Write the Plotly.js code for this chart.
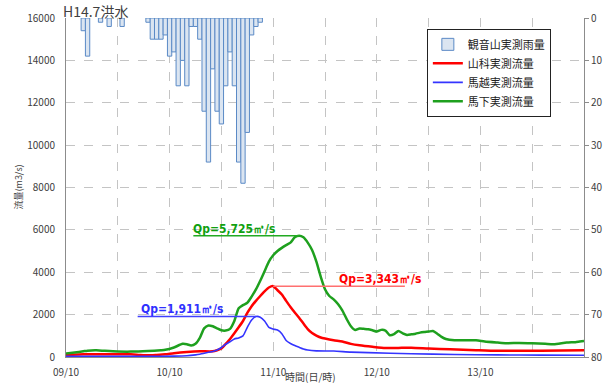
<!DOCTYPE html>
<html>
<head>
<meta charset="utf-8">
<script src="https://cdn.plot.ly/plotly-3.0.1.min.js"></script>
<style>html,body{margin:0;padding:0;background:#fff;}#chart{width:614px;height:390px;}</style>
</head>
<body>
<div id="chart"></div>
<script>
// Hours since 09/10 (day 9, 10:00), July 2002 (H14.7)
const chartTitle = "H14.7洪水";
const dayLabels = ["09/10", "10/10", "11/10", "12/10", "13/10"];

// 観音山実測雨量 (mm/h)
const rainHours = [4, 5, 8, 10, 13, 19, 20, 21, 22, 23, 24, 25, 26, 27, 28, 29, 30, 31, 32, 33, 34, 35, 36, 37, 38, 39, 40, 41, 42, 43, 44, 45];
const rainVals  = [3, 9, 1, 2, 2, 1, 5, 5, 5, 4, 9, 8, 16, 10, 16, 2, 2, 5, 22, 34, 12, 22, 25, 16, 8, 16, 34, 39, 27, 4, 2, 1];

// 山科実測流量 (m3/s)
const yamashinaHours = [0, 3, 5, 10, 15, 17, 19, 21, 23, 25, 28, 31, 34, 35, 36, 37, 38, 39, 40, 41, 42, 43, 44, 45, 46, 47, 48, 49, 50, 51, 52, 53, 54, 55, 56, 57, 58, 59, 60, 62, 64, 66, 68, 71, 74, 77, 80, 84, 89, 95, 100, 110, 120];
const yamashinaVals  = [100, 120, 127, 127, 127, 100, 80, 100, 127, 180, 236, 269, 269, 320, 400, 620, 850, 1120, 1400, 1700, 2080, 2400, 2650, 2880, 3100, 3280, 3343, 3150, 2950, 2650, 2360, 2100, 1850, 1580, 1320, 1130, 1010, 920, 870, 790, 730, 620, 552, 480, 420, 430, 440, 400, 363, 320, 290, 300, 316];

// 馬越実測流量 (m3/s)
const magoshiHours = [0, 10, 20, 25, 28, 30, 31, 33, 34, 35, 36, 37, 38, 39, 40, 41, 42, 43, 44, 45, 46, 47, 48, 49, 50, 51, 52, 53, 54, 55, 56, 58, 62, 66, 70, 80, 90, 100, 110, 120];
const magoshiVals  = [30, 30, 30, 40, 60, 100, 130, 220, 260, 330, 450, 600, 720, 850, 900, 1000, 1400, 1750, 1911, 1880, 1700, 1400, 1320, 1270, 1100, 780, 640, 540, 460, 380, 330, 290, 280, 230, 207, 150, 120, 100, 90, 80];

// 馬下実測流量 (m3/s)
const umashitaHours = [0, 2, 4, 5, 7, 9, 12, 15, 19, 22, 23, 25, 27, 28, 29, 30, 31, 32, 33, 34, 35, 36, 37, 38, 39, 40, 41, 42, 43, 44, 45, 46, 47, 48, 49, 50, 51, 52, 53, 54, 55, 56, 57, 58, 59, 60, 61, 62, 63, 64, 65, 66, 67, 68, 69, 70, 71, 72, 73, 74, 75, 76, 77, 78, 79, 80, 81, 82, 83, 84, 85, 86, 87, 88, 90, 95, 97, 100, 102, 105, 108, 111, 113, 116, 118, 119, 120];
const umashitaVals  = [160, 210, 270, 300, 316, 290, 260, 255, 283, 320, 340, 450, 620, 600, 540, 620, 900, 1350, 1490, 1450, 1350, 1260, 1250, 1330, 1700, 2300, 2450, 2560, 2850, 3190, 3600, 4050, 4500, 4800, 5000, 5150, 5280, 5400, 5650, 5725, 5650, 5400, 5050, 4500, 3800, 3200, 2880, 2720, 2500, 2200, 1800, 1450, 1270, 1350, 1330, 1310, 1260, 1200, 1280, 1250, 1030, 1080, 1226, 1120, 1040, 1070, 1100, 1150, 1180, 1200, 1226, 1100, 950, 850, 790, 787, 730, 680, 650, 660, 646, 620, 600, 680, 700, 730, 754];

const seriesNames = ["観音山実測雨量", "山科実測流量", "馬越実測流量", "馬下実測流量"];

// ---- build ----
const JP = "Noto Sans CJK JP, Noto Sans, sans-serif";
const tickVals = [], tickText = [];
for (let h = 0; h <= 120; h += 12) {
  tickVals.push(h);
  const d = h / 24;
  tickText.push(Number.isInteger(d) && d < dayLabels.length ? dayLabels[d] : "");
}

function peakOf(hours, vals) {
  let i = 0;
  vals.forEach((v, k) => { if (v > vals[i]) i = k; });
  return {h: hours[i], v: vals[i]};
}
const pGreen = peakOf(umashitaHours, umashitaVals);
const pRed = peakOf(yamashinaHours, yamashinaVals);
const pBlue = peakOf(magoshiHours, magoshiVals);
const fmt = v => "Qp=" + v.toLocaleString("en-US") + "㎥/s";

const traces = [
  {type: "bar", name: seriesNames[0], x: rainHours, y: rainVals, yaxis: "y2", width: 1,
   marker: {color: "#dbe5f1", line: {color: "#5b8ac6", width: 1}}},
  {type: "scatter", mode: "lines", name: seriesNames[1], x: yamashinaHours, y: yamashinaVals,
   line: {color: "#ff0000", width: 2.5, shape: "spline", smoothing: 0.6}},
  {type: "scatter", mode: "lines", name: seriesNames[2], x: magoshiHours, y: magoshiVals,
   line: {color: "#3434ff", width: 1.6, shape: "spline", smoothing: 0.6}},
  {type: "scatter", mode: "lines", name: seriesNames[3], x: umashitaHours, y: umashitaVals,
   line: {color: "#1ea01e", width: 2.5, shape: "spline", smoothing: 0.6}}
];

const qpFont = (c) => ({family: "Liberation Sans Narrow, DejaVu Sans Condensed, DejaVu Sans", size: 12, color: c, weight: "bold", stretch: "condensed"});

const shapes = [
  {type: "line", xref: "x", yref: "y", x0: pGreen.h - 24.5, x1: pGreen.h, y0: pGreen.v, y1: pGreen.v, line: {color: "#22aa22", width: 1.5}},
  {type: "line", xref: "x", yref: "y", x0: pRed.h, x1: pRed.h + 30.5, y0: pRed.v, y1: pRed.v, line: {color: "#ff7070", width: 1.5}},
  {type: "line", xref: "x", yref: "y", x0: pBlue.h - 27.4, x1: pBlue.h, y0: pBlue.v, y1: pBlue.v, line: {color: "#4040ff", width: 1.5}}
];

const annotations = [
  {xref: "paper", yref: "paper", x: 0, y: 1, xanchor: "left", yanchor: "top", xshift: -5, yshift: 19,
   text: chartTitle, showarrow: false, font: {family: JP, size: 14, color: "#404040"}},
  {xref: "x", yref: "y", x: pGreen.h - 25, y: pGreen.v, xanchor: "left", yanchor: "bottom", yshift: -2,
   text: fmt(pGreen.v), showarrow: false, font: qpFont("#10a010")},
  {xref: "x", yref: "y", x: pRed.h + 14.7, y: pRed.v, xanchor: "left", yanchor: "bottom", yshift: -2,
   text: fmt(pRed.v), showarrow: false, font: qpFont("#ff0000")},
  {xref: "x", yref: "y", x: pBlue.h - 27, y: pBlue.v, xanchor: "left", yanchor: "bottom", yshift: -1,
   text: fmt(pBlue.v), showarrow: false, font: qpFont("#3030ff")},
  {xref: "paper", yref: "paper", x: 0, y: 0.5, xanchor: "center", yanchor: "middle", xshift: -48,
   text: "流量(m3/s)", textangle: -90, showarrow: false, font: {family: JP, size: 9, color: "#404040"}},
  {xref: "paper", yref: "paper", x: 0.472, y: 0, xanchor: "center", yanchor: "middle", yshift: -19,
   text: "時間(日/時)", showarrow: false, font: {family: JP, size: 10, color: "#404040"}}
];

const layout = {
  width: 614, height: 390,
  margin: {l: 66, r: 30, t: 18, b: 33, pad: 0},
  paper_bgcolor: "#ffffff", plot_bgcolor: "#ffffff",
  font: {family: JP, size: 10, color: "#404040"},
  showlegend: true,
  legend: {x: 0.936, xanchor: "right", y: 0.968, yanchor: "top", bgcolor: "#ffffff",
           bordercolor: "#222222", borderwidth: 1, font: {family: JP, size: 11, color: "#222"},
           tracegroupgap: 0},
  bargap: 0,
  xaxis: {range: [0, 120], tickmode: "array", tickvals: tickVals, ticktext: tickText,
          showgrid: true, gridcolor: "#c4c4c4", griddash: "dash", gridwidth: 1,
          showline: true, linecolor: "#8c8c8c", linewidth: 1, zeroline: false, ticks: "",
          ticklabelstandoff: 6, tickfont: {family: JP, size: 10, color: "#404040"}},
  yaxis: {range: [0, 16000], dtick: 2000, tickformat: "d",
          showgrid: true, gridcolor: "#c4c4c4", griddash: "dash", gridwidth: 1,
          showline: true, linecolor: "#8c8c8c", linewidth: 1, zeroline: false, ticks: "",
          ticklabelstandoff: 8, tickfont: {family: JP, size: 10, color: "#404040"}},
  yaxis2: {overlaying: "y", side: "right", range: [80, 0], dtick: 10,
           showgrid: false, showline: true, linecolor: "#8c8c8c", linewidth: 1, zeroline: false,
           ticks: "outside", ticklen: 4, tickcolor: "#8c8c8c",
           tickfont: {family: JP, size: 10, color: "#404040"}},
  shapes: shapes,
  annotations: annotations
};

Plotly.newPlot("chart", traces, layout, {displayModeBar: false, staticPlot: true});
</script>
</body>
</html>
